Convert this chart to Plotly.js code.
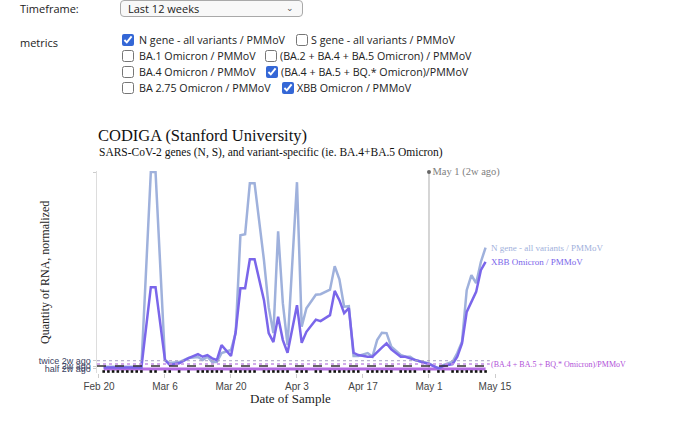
<!DOCTYPE html>
<html>
<head>
<meta charset="utf-8">
<script src="https://cdn.plot.ly/plotly-3.0.1.min.js"></script>
<style>
  html, body { margin:0; padding:0; background:#fff; width:680px; height:430px; overflow:hidden; }
  body { font-family: "Open Sans", "Liberation Sans", Arial, sans-serif; font-size:10.7px; color:#222; position:relative; }
  .abs { position:absolute; white-space:nowrap; }
  .lbl { line-height:14px; }
  .sel { left:120px; top:0px; width:174px; height:15px; border:1px solid #a9a9a9; border-radius:4px;
         background:#f8f8f8; line-height:15px; padding-left:7px; box-sizing:content-box; font-size:11px; }
  .chev { position:absolute; right:8px; top:-1px; font-size:9px; color:#555; }
  input[type=checkbox] { margin:0; width:12px; height:12px; accent-color:#3467d6; position:absolute; }
  #chart { position:absolute; left:0; top:110px; width:680px; height:320px; }
</style>
</head>
<body>
<div class="abs lbl" style="left:20px; top:2px; font-size:11px;">Timeframe:</div>
<div class="abs sel">Last 12 weeks<span class="chev">&#8964;</span></div>

<div class="abs lbl" style="left:20px; top:36px; font-size:11px;">metrics</div>

<input type="checkbox" checked style="left:122px; top:34px;">
<div class="abs lbl" style="left:139px; top:33px;">N gene - all variants / PMMoV</div>
<input type="checkbox" style="left:296px; top:34px;">
<div class="abs lbl" style="left:311px; top:33px;">S gene - all variants / PMMoV</div>

<input type="checkbox" style="left:122px; top:50px;">
<div class="abs lbl" style="left:139px; top:49px;">BA.1 Omicron / PMMoV</div>
<input type="checkbox" style="left:265px; top:50px;">
<div class="abs lbl" style="left:280px; top:49px;">(BA.2 + BA.4 + BA.5 Omicron) / PMMoV</div>

<input type="checkbox" style="left:122px; top:66px;">
<div class="abs lbl" style="left:139px; top:65px;">BA.4 Omicron / PMMoV</div>
<input type="checkbox" checked style="left:266px; top:66px;">
<div class="abs lbl" style="left:281px; top:65px;">(BA.4 + BA.5 + BQ.* Omicron)/PMMoV</div>

<input type="checkbox" style="left:122px; top:82px;">
<div class="abs lbl" style="left:139px; top:81px;">BA 2.75 Omicron / PMMoV</div>
<input type="checkbox" checked style="left:282px; top:82px;">
<div class="abs lbl" style="left:297px; top:81px;">XBB Omicron / PMMoV</div>

<div id="chart"></div>

<script>
// Sample dates (2023)
const dates = [
  '2023-02-21','2023-02-22','2023-02-23','2023-02-24','2023-02-25','2023-02-26','2023-02-27','2023-02-28',
  '2023-03-01','2023-03-03','2023-03-04','2023-03-06','2023-03-07','2023-03-09','2023-03-11','2023-03-13',
  '2023-03-14','2023-03-15','2023-03-16','2023-03-17','2023-03-18','2023-03-20','2023-03-21','2023-03-22',
  '2023-03-23','2023-03-24','2023-03-25','2023-03-27','2023-03-28','2023-03-29','2023-03-30','2023-03-31',
  '2023-04-01','2023-04-03','2023-04-04','2023-04-05','2023-04-07','2023-04-08','2023-04-10','2023-04-11',
  '2023-04-12','2023-04-13','2023-04-14','2023-04-15','2023-04-16','2023-04-18','2023-04-19','2023-04-20',
  '2023-04-21','2023-04-22','2023-04-23','2023-04-25','2023-04-26','2023-04-27','2023-04-28','2023-04-30',
  '2023-05-01','2023-05-03','2023-05-04','2023-05-06','2023-05-07','2023-05-08','2023-05-09','2023-05-10',
  '2023-05-11','2023-05-12','2023-05-13'
];

// N gene - all variants / PMMoV
const nGene = [
  4.8, 4.9, 4.7, 4.8, 4.9, 4.8, 4.7, 4.8,
  4.8, 200, 200, 11.5, 8.5, 9.5, 13.5, 14.5,
  11.5, 14.8, 9.5, 9.5, 18.5, 21.5, 38.5, 136.5,
  137.5, 188.8, 188.8, 111.5, 64.5, 38.5, 140.5, 68.5,
  26.5, 189.8, 44.8, 63.5, 77, 77.5, 82, 105.5,
  92.5, 65, 65.5, 15.5, 15.5, 18.5, 14.8, 31.5,
  38.8, 38.5, 24.8, 16.5, 14.8, 14.8, 11.5, 9.8,
  8.2, 3.2, 6.5, 9.8, 18.5, 29.8, 81.5, 96.5,
  88.5, 109.8, 124.2
];

// XBB Omicron / PMMoV
const xbb = [
  4.0, 4.1, 3.9, 4.0, 4.1, 4.0, 3.9, 4.0,
  4.0, 84.5, 84.5, 11.5, 6.5, 8.2, 13.5, 17.5,
  14.8, 16.5, 13.2, 11.5, 26.5, 15.5, 39.8, 83.5,
  83.5, 112.5, 112.5, 71.5, 38.5, 29.5, 55, 31.5,
  18.8, 66.5, 28.8, 39.8, 52, 50.5, 56.5, 80.8,
  71.5, 58.5, 63.5, 18.8, 16.5, 14.8, 14.8, 19.8,
  24.0, 28.2, 22.2, 14.8, 14.8, 13.2, 11.5, 8.8,
  7.5, 3.2, 5.5, 7.5, 14.8, 28.2, 59.8, 69.8,
  79.8, 101.5, 109.8
];

// (BA.4 + BA.5 + BQ.* Omicron)/PMMoV
const baBq = [
  2.6, 2.6, 2.6, 2.6, 2.6, 2.6, 2.6, 2.6,
  2.6, 2.6, 2.6, 2.6, 2.6, 2.6, 2.6, 2.6,
  2.6, 2.6, 2.6, 2.6, 2.6, 2.6, 2.6, 2.6,
  2.6, 2.6, 2.6, 2.6, 2.6, 2.6, 2.6, 2.6,
  2.6, 2.6, 2.6, 2.6, 2.6, 2.6, 2.6, 2.6,
  2.6, 2.6, 2.6, 2.6, 2.6, 2.6, 2.6, 2.6,
  2.6, 2.6, 2.6, 2.6, 2.6, 2.6, 2.6, 2.6,
  2.6, 2.6, 2.6, 2.6, 2.6, 2.6, 2.6, 2.6,
  2.6, 2.6, 2.6
];

// Reference levels
const twoWeeksAgo = 5.4;
const xbbTwoWeeksAgo = 7.5;
const refDate = '2023-05-01';
const yTickVals = [2.7, 5.4, 10.8, 200];
const yTickText = ['half 2w ago', '2w ago', 'twice 2w ago', ''];
const xTickVals = ['2023-02-20','2023-03-06','2023-03-20','2023-04-03','2023-04-17','2023-05-01','2023-05-15'];
const xTickText = ['Feb 20','Mar 6','Mar 20','Apr 3','Apr 17','May 1','May 15'];

const SERIF = '"Liberation Serif", "DejaVu Serif", serif';
const SANS = '"Liberation Sans", Arial, sans-serif';

const cN = '#9fb1dc', cX = '#7a66ea', cB = '#b46be3';

const traces = [
  { x: dates, y: baBq, type:'scatter', mode:'lines', line:{color:cB, width:3}, hoverinfo:'skip', name:'(BA.4 + BA.5 + BQ.* Omicron)/PMMoV' },
  { x: dates, y: dates.map(()=>0), type:'scatter', mode:'markers', marker:{symbol:'square', size:2.6, color:'#111'}, hoverinfo:'skip', name:'samples' },
  { x: dates, y: nGene, type:'scatter', mode:'lines', line:{color:cN, width:2.5}, name:'N gene - all variants / PMMoV' },
  { x: dates, y: xbb, type:'scatter', mode:'lines', line:{color:cX, width:2.5}, name:'XBB Omicron / PMMoV' },
  { x: [refDate], y: [200], type:'scatter', mode:'markers+text', marker:{color:'#666', size:4},
    text:['May 1 (2w ago)'], textposition:'middle right', textfont:{family:SERIF, size:10.5, color:'#808080'}, cliponaxis:false, hoverinfo:'skip' }
];

const layout = {
  width:680, height:320,
  margin:{l:97, r:185, t:61, b:57},
  paper_bgcolor:'#fff', plot_bgcolor:'#fff',
  showlegend:false,
  title:{ text:'CODIGA (Stanford University)', xref:'container', x:98/680, xanchor:'left',
          yref:'container', y:1-25/320, yanchor:'middle', font:{family:SERIF, size:16.5, color:'#111'} },
  xaxis:{ type:'date', range:['2023-02-19 14:00','2023-05-15'], tickvals:xTickVals, ticktext:xTickText,
          ticks:'outside', ticklen:4, tickcolor:'#ccc', showgrid:false, zeroline:false, showline:false,
          tickfont:{family:SANS, size:10, color:'#444'} },
  yaxis:{ range:[-1.5, 201], tickvals:yTickVals, ticktext:yTickText, ticks:'outside', ticklen:3, tickcolor:'#ccc',
          showline:true, linecolor:'#ddd', linewidth:1.5, showgrid:false, zeroline:false,
          tickfont:{family:SANS, size:9, color:'#3a3f5f'} },
  shapes:[
    { type:'line', xref:'x', yref:'paper', x0:refDate, x1:refDate, y0:0, y1:1, line:{color:'#c8c8c8', width:1.5}, layer:'below' },
    { type:'line', xref:'paper', yref:'y', x0:0, x1:0.987, y0:2*twoWeeksAgo, y1:2*twoWeeksAgo, line:{color:'#a49ec2', width:1, dash:'dot'} },
    { type:'line', xref:'paper', yref:'y', x0:0, x1:0.987, y0:xbbTwoWeeksAgo, y1:xbbTwoWeeksAgo, line:{color:'#c58fe6', width:1.5, dash:'dot'} },
    { type:'line', xref:'paper', yref:'y', x0:0, x1:0.987, y0:twoWeeksAgo, y1:twoWeeksAgo, line:{color:'#333', width:1.5, dash:'dash'} }
  ],
  annotations:[
    { xref:'paper', yref:'paper', x:0, y:1.094, xanchor:'left', yanchor:'middle', showarrow:false,
      text:'SARS-CoV-2 genes (N, S), and variant-specific (ie. BA.4+BA.5 Omicron)', font:{family:SERIF, size:11.5, color:'#111'} },
    { xref:'paper', yref:'paper', x:(45-97)/398, y:0.5, xanchor:'center', yanchor:'middle', textangle:-90, showarrow:false,
      text:'Quantity of RNA, normalized', font:{family:SERIF, size:12, color:'#222'} },
    { xref:'paper', yref:'paper', x:(290-97)/398, y:-25/202, xanchor:'center', yanchor:'middle', showarrow:false,
      text:'Date of Sample', font:{family:SERIF, size:13, color:'#222'} },
    { x:dates[dates.length-1], y:nGene[nGene.length-1], xanchor:'left', yanchor:'middle', xshift:3, showarrow:false,
      text:'N gene - all variants / PMMoV', font:{family:SERIF, size:9, color:cN} },
    { x:dates[dates.length-1], y:xbb[xbb.length-1], xanchor:'left', yanchor:'middle', xshift:3, showarrow:false,
      text:'XBB Omicron / PMMoV', font:{family:SERIF, size:9, color:cX} },
    { x:dates[dates.length-1], y:baBq[baBq.length-1], xanchor:'left', yanchor:'middle', xshift:3, yshift:4, showarrow:false,
      text:'(BA.4 + BA.5 + BQ.* Omicron)/PMMoV', font:{family:SERIF, size:8, color:'#b050d8'} }
  ]
};

Plotly.newPlot('chart', traces, layout, {displayModeBar:false, staticPlot:true});
</script>
</body>
</html>
